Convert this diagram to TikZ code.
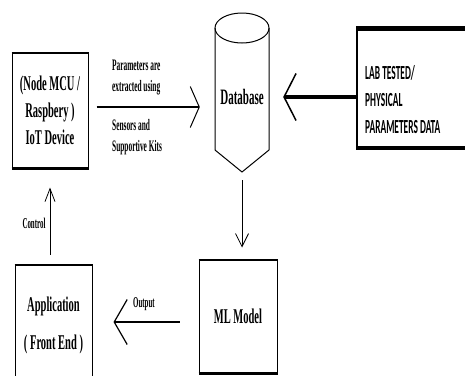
\documentclass[tikz,border=0pt]{standalone}
\usepackage{fontspec}
\usetikzlibrary{arrows.meta}
\newfontfamily\cf[FakeStretch=0.5]{Liberation Serif}
\newfontfamily\cl[FakeStretch=0.46]{Liberation Serif}
\newfontfamily\cs[FakeStretch=0.47]{Carlito}
\begin{document}
\begin{tikzpicture}[x=1pt,y=-1pt,
  box/.style={draw, line width=1pt, inner sep=0pt},
  tx/.style={font={\cf\bfseries\fontsize{#1}{27}\selectfont}, align=center, inner sep=0pt},
  lbl/.style={font={\cl\bfseries\fontsize{#1}{21}\selectfont}, align=left, inner sep=0pt},
  thickline/.style={line width=#1, line cap=butt},
  barb/.style n args={4}{line width=#1, -{Straight Barb[length=#2, width=#3, line width=#4]}}
]
\useasboundingbox (0,0) rectangle (465,375);
\clip (0,0) rectangle (465,375);
\fill[white] (0,0) rectangle (465,375);

% IoT device box
\node[box, tx=21, minimum width=76pt, minimum height=115pt] (iot) at (50,110.5)
  {(Node MCU /\\Raspbery )\\IoT Device};
\draw[thickline=2pt] (iot.north west) -- (iot.north east);
\draw[thickline=2.6pt] (iot.south west) -- (iot.south east);

% Database cylinder
\draw[line width=1pt, line join=miter] (215,28) -- (215,150) -- (242,172) -- (269,150) -- (269,28);
\draw[line width=1pt] (242,28) ellipse [x radius=27, y radius=15];
\node[tx=22, minimum width=54pt] (db) at (242,97) {Database};
\coordinate (dbtip) at (242,172);

% Lab box
\node[box, line width=1.5pt, minimum width=113pt, minimum height=118pt] (lab) at (413.5,88) {};
\draw[thickline=4.5pt] (lab.north west) -- (lab.north east);
\draw[thickline=4.5pt] (lab.south west) -- (lab.south east);
\node[font={\cs\bfseries\fontsize{20}{27}\selectfont}, align=left, inner sep=0pt, anchor=west] (labt) at (365,100)
  {LAB TESTED/\\PHYSICAL\\PARAMETERS DATA};

% ML model box
\node[box, tx=21, minimum width=78pt, minimum height=113pt] (ml) at (238,316.5) {ML Model};
\draw[thickline=2pt] (ml.north west) -- (ml.north east);
\draw[thickline=3pt] (ml.south west) -- (ml.south east);

% Application box
\node[box, font={\cf\bfseries\fontsize{21}{38}\selectfont}, align=center, inner sep=0pt,
  minimum width=77pt, minimum height=120pt] (app) at (53.5,325) {Application\\( Front End )};
\draw[thickline=2pt] (app.north west) -- (app.north east);

% labels
\node[lbl=16, anchor=west] (pl1) at (112,78) {Parameters are\\extracted using};
\node[lbl=16, anchor=west] (pl2) at (112,137) {Sensors and\\Supportive Kits};
\node[lbl=15, anchor=west] (outl) at (133,304) {Output};
\node[lbl=15] (ctl) at (34,223) {Control};

% connectors
\coordinate (ia) at ([yshift=3.5pt]iot.east);
\draw[barb={2.3pt}{9pt}{41pt}{1pt}, shorten <=8pt, shorten >=15pt] (ia) -- (ia -| db.west);

\coordinate (la) at ([yshift=-9pt]lab.west);
\draw[barb={4pt}{12pt}{47pt}{1.5pt}, shorten >=14pt] (la) -- (la -| db.east);

\draw[barb={0.8pt}{13pt}{13pt}{0.8pt}, shorten <=8pt, shorten >=12pt] (dbtip) -- (dbtip |- ml.north);

\coordinate (oa) at ([yshift=-5.5pt]ml.west);
\draw[barb={2.5pt}{13pt}{45pt}{1.2pt}, shorten <=19pt, shorten >=21pt] (oa) -- (oa -| app.east);

\draw[barb={0.8pt}{13pt}{10pt}{0.8pt}, shorten <=10pt, shorten >=19pt] (iot.south |- app.north) -- (iot.south);
\end{tikzpicture}
\end{document}
